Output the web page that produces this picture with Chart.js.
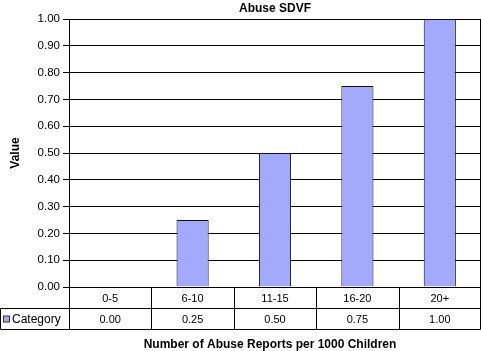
<!DOCTYPE html>
<html>
<head>
<meta charset="utf-8">
<script src="https://cdn.jsdelivr.net/npm/chart.js@4/dist/chart.umd.min.js"></script>
<style>
  html, body { margin: 0; padding: 0; background: #fff; }
  #wrap { width: 481px; height: 351px; }
</style>
</head>
<body>
<div id="wrap"><canvas id="graficoabuse"></canvas></div>
<script>
var categorias = ['0-5', '6-10', '11-15', '16-20', '20+'];
var valores = [0.00, 0.25, 0.50, 0.75, 1.00];
var nomeSerie = 'Category';
var tituloGrafico = 'Abuse SDVF';
var tituloX = 'Number of Abuse Reports per 1000 Children';
var tituloY = 'Value';

var corBarra = '#a3a9fc';
var fonte = '"Liberation Sans", Arial, Helvetica, sans-serif';

// desenha a tabela de dados, o titulo e a borda direita
var tabelaPlugin = {
  id: 'tabela',
  afterDraw: function (chart) {
    var c = chart.ctx;
    var area = chart.chartArea;
    var x = chart.scales.x;
    var n = categorias.length;
    var passo = (area.right - area.left) / n;
    var y0 = Math.round(area.bottom) + 0.5;
    var alt = 21;
    var dir = Math.round(area.right) - 0.5;

    c.save();
    c.strokeStyle = '#000';
    c.lineWidth = 1;

    // borda direita da area
    c.beginPath();
    c.moveTo(dir, area.top);
    c.lineTo(dir, y0 + 2 * alt);
    c.stroke();

    // linhas da tabela
    c.beginPath();
    c.moveTo(0.5, y0 + alt); c.lineTo(dir, y0 + alt);
    c.moveTo(0.5, y0 + 2 * alt); c.lineTo(dir, y0 + 2 * alt);
    c.moveTo(0.5, y0 + alt); c.lineTo(0.5, y0 + 2 * alt);
    c.moveTo(Math.round(area.left) + 0.5, y0); c.lineTo(Math.round(area.left) + 0.5, y0 + 2 * alt);
    for (var i = 1; i < n; i++) {
      var xb = Math.round(area.left + passo * i) + 0.5;
      c.moveTo(xb, y0); c.lineTo(xb, y0 + 2 * alt);
    }
    c.stroke();

    c.fillStyle = '#000';
    c.font = '11px ' + fonte;
    c.textAlign = 'center';
    c.textBaseline = 'middle';
    for (var j = 0; j < n; j++) {
      var xc = x.getPixelForValue(j);
      c.fillText(categorias[j], xc, y0 + alt / 2 + 0.5);
      c.fillText(valores[j].toFixed(2), xc, y0 + alt * 1.5 + 0.5);
    }

    // legenda da serie
    c.fillStyle = corBarra;
    c.fillRect(3.5, y0 + alt + 7.5, 6, 6);
    c.strokeStyle = '#333';
    c.strokeRect(3.5, y0 + alt + 7.5, 6, 6);
    c.fillStyle = '#000';
    c.textAlign = 'left';
    c.font = '12px ' + fonte;
    c.fillText(nomeSerie, 12, y0 + alt * 1.5 + 0.5);

    // titulos
    var xm = (area.left + area.right) / 2;
    c.textAlign = 'center';
    c.font = 'bold 12px ' + fonte;
    c.fillText(tituloGrafico, xm, 9);
    c.fillText(tituloX, xm - 5, 345);
    c.restore();
  }
};

var ctx = document.getElementById('graficoabuse').getContext('2d');
var graficoAbuse = new Chart(ctx, {
  type: 'bar',
  data: {
    labels: categorias,
    datasets: [{
      label: nomeSerie,
      data: valores,
      backgroundColor: corBarra,
      borderColor: '#111',
      borderWidth: 1,
      barPercentage: 0.39,
      categoryPercentage: 1.0
    }]
  },
  options: {
    responsive: true,
    maintainAspectRatio: false,
    animation: false,
    layout: { padding: { top: 19, right: 0, bottom: 64, left: 0 } },
    scales: {
      x: { display: false },
      y: {
        min: 0,
        max: 1,
        afterFit: function (s) { s.width = 69; },
        ticks: {
          stepSize: 0.1,
          color: '#000',
          padding: 3,
          font: { family: fonte, size: 11.5 },
          callback: function (v) { return Number(v).toFixed(2); }
        },
        grid: { color: '#000', lineWidth: 1, tickLength: 6 },
        border: { color: '#000', width: 1 },
        title: {
          display: true,
          text: tituloY,
          color: '#000',
          padding: { top: 8, bottom: 0 },
          font: { family: fonte, size: 12, weight: 'bold' }
        }
      }
    },
    plugins: {
      legend: { display: false },
      tooltip: { enabled: false }
    }
  },
  plugins: [tabelaPlugin]
});
</script>
</body>
</html>
